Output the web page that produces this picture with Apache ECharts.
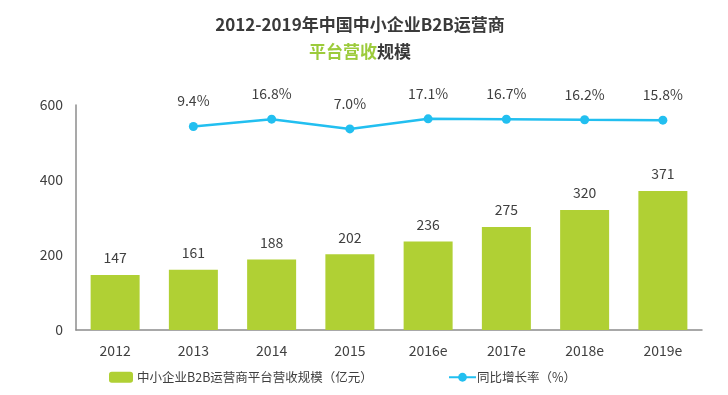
<!DOCTYPE html>
<html><head><meta charset="utf-8">
<script src="https://cdn.jsdelivr.net/npm/echarts@6/dist/echarts.min.js"></script>
<style>html,body{margin:0;padding:0;background:#fff}#c{width:728px;height:395px}</style>
</head><body><div id="c"></div>
<script>
const categories = ['2012','2013','2014','2015','2016e','2017e','2018e','2019e'];
const revenue = [147,161,188,202,236,275,320,371];
const growth = [null,9.4,16.8,7.0,17.1,16.7,16.2,15.8];
const yTicks = [0,200,400,600];
const barName = '中小企业B2B运营商平台营收规模（亿元）';
const lineName = '同比增长率（%）';

const FONT = '"Noto Sans CJK SC","Noto Sans",sans-serif';
const chart = echarts.init(document.getElementById('c'));
chart.setOption({
  animation:false,
  textStyle:{fontFamily:FONT},
  title:{
    left:360, top:11, padding:0, textAlign:'center',
    text:'{a|2012-2019年中国中小企业B2B运营商}\n{g|平台营收}{a|规模}',
    textStyle:{
      rich:{
        a:{fontSize:17,fontWeight:'bold',color:'#3a3a3a',lineHeight:27,fontFamily:FONT},
        g:{fontSize:17,fontWeight:'bold',color:'#9ccb3b',lineHeight:27,fontFamily:FONT}
      }
    }
  },
  legend:[
    {data:[barName],left:109,top:371,padding:0,itemWidth:24,itemHeight:11,itemGap:0,
     textStyle:{fontSize:12.5,color:'#404040',fontFamily:FONT,padding:[0,0,0,-1]}},
    {data:[lineName],left:448,top:371,padding:0,itemWidth:27,itemHeight:11,
     textStyle:{fontSize:12.5,color:'#404040',fontFamily:FONT,padding:[0,0,0,-4]}}
  ],
  grid:{left:76,right:26,top:105,bottom:65,containLabel:false},
  xAxis:{
    type:'category',data:categories,
    axisLine:{lineStyle:{color:'#8c8c8c',width:1.5}},
    axisTick:{show:false},
    axisLabel:{fontSize:14,color:'#404040',margin:14,fontFamily:FONT}
  },
  yAxis:[
    {type:'value',min:yTicks[0],max:yTicks[yTicks.length-1],interval:200,
     axisLine:{show:true,lineStyle:{color:'#8c8c8c',width:1.5}},
     axisTick:{show:false},splitLine:{show:false},
     axisLabel:{fontSize:14,color:'#404040',margin:13,fontFamily:FONT}},
    {type:'value',min:-195,max:31,show:false,splitLine:{show:false}}
  ],
  series:[
    {name:barName,type:'bar',data:revenue,barWidth:49,
     itemStyle:{color:'#b0d034'},
     label:{show:true,position:'top',distance:10,fontSize:14,color:'#404040',fontFamily:FONT}},
    {name:lineName,type:'line',yAxisIndex:1,data:growth,
     symbol:'circle',symbolSize:9,
     lineStyle:{color:'#22bff0',width:2.5},
     itemStyle:{color:'#22bff0'},
     label:{show:true,position:'top',distance:14,fontSize:14,color:'#404040',fontFamily:FONT,
       formatter:p=>p.value.toFixed(1)+'%'}}
  ]
});
</script></body></html>
